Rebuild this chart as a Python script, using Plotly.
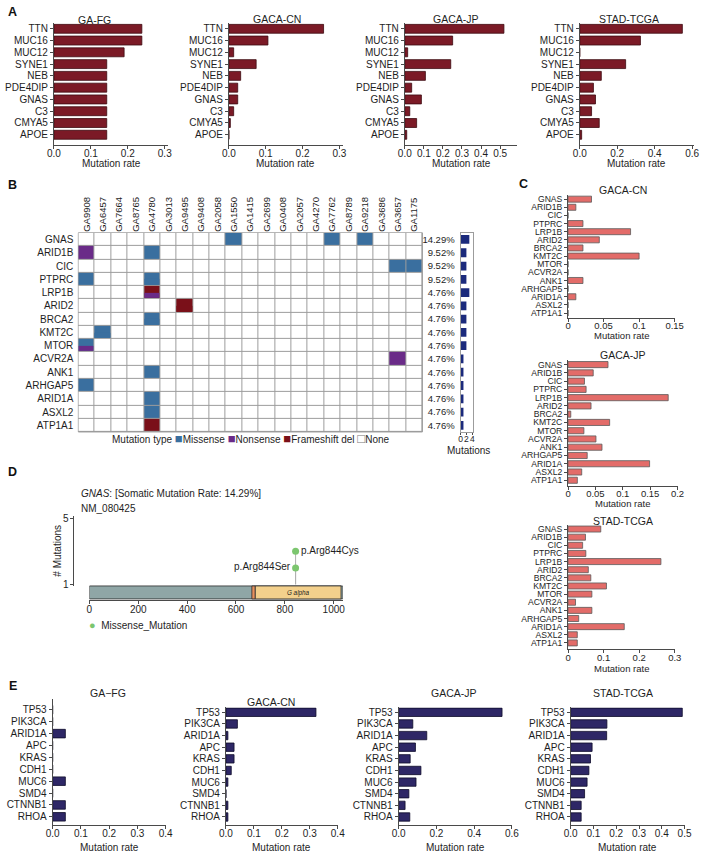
import plotly.graph_objects as go

W, H = 709, 855
FONT = "Liberation Sans, Arial, sans-serif"
TXT = "#1e1e1e"
AXC = "#4a4a4a"

# ---------------- Data ----------------
A_genes = ["TTN", "MUC16", "MUC12", "SYNE1", "NEB", "PDE4DIP", "GNAS", "C3", "CMYA5", "APOE"]
A_ga_fg = [0.238, 0.238, 0.190, 0.143, 0.143, 0.143, 0.143, 0.143, 0.143, 0.143]
A_gaca_cn = [0.257, 0.106, 0.013, 0.074, 0.032, 0.024, 0.024, 0.013, 0.004, 0.0]
A_gaca_jp = [0.520, 0.251, 0.015, 0.241, 0.108, 0.036, 0.087, 0.026, 0.062, 0.010]
A_stad = [0.548, 0.324, 0.0, 0.245, 0.115, 0.073, 0.084, 0.063, 0.104, 0.010]

B_genes = ["GNAS", "ARID1B", "CIC", "PTPRC", "LRP1B", "ARID2", "BRCA2", "KMT2C", "MTOR",
           "ACVR2A", "ANK1", "ARHGAP5", "ARID1A", "ASXL2", "ATP1A1"]
B_samples = ["GA9908", "GA6457", "GA7664", "GA8765", "GA4780", "GA3013", "GA9495", "GA9408",
             "GA2058", "GA1550", "GA1415", "GA2699", "GA0408", "GA2057", "GA4270", "GA7762",
             "GA8789", "GA9218", "GA3686", "GA3657", "GA1175"]
B_pct = ["14.29%", "9.52%", "9.52%", "9.52%", "4.76%", "4.76%", "4.76%", "4.76%", "4.76%",
         "4.76%", "4.76%", "4.76%", "4.76%", "4.76%", "4.76%"]
B_counts = [3, 2, 2, 2, 3, 2, 2, 2, 2, 1, 1, 1, 1, 1, 1]
B_types = ["None", "Missense", "Nonsense", "Frameshift del"]
B_type_colors = ["#FFFFFF", "#3A6F9F", "#6A2B88", "#7A1019"]
B_mutations = [
    ("GNAS", "GA1550", ["Missense"]), ("GNAS", "GA7762", ["Missense"]), ("GNAS", "GA9218", ["Missense"]),
    ("ARID1B", "GA9908", ["Nonsense"]), ("ARID1B", "GA4780", ["Missense"]),
    ("CIC", "GA3657", ["Missense"]), ("CIC", "GA1175", ["Missense"]),
    ("PTPRC", "GA9908", ["Missense"]), ("PTPRC", "GA4780", ["Missense", "Missense"]),
    ("LRP1B", "GA4780", ["Frameshift del", "Nonsense"]),
    ("ARID2", "GA9495", ["Frameshift del", "Frameshift del"]),
    ("BRCA2", "GA4780", ["Missense", "Missense"]),
    ("KMT2C", "GA6457", ["Missense", "Missense"]),
    ("MTOR", "GA9908", ["Missense", "Nonsense"]),
    ("ACVR2A", "GA3657", ["Nonsense"]),
    ("ANK1", "GA4780", ["Missense"]),
    ("ARHGAP5", "GA9908", ["Missense"]),
    ("ARID1A", "GA4780", ["Missense"]),
    ("ASXL2", "GA4780", ["Missense"]),
    ("ATP1A1", "GA4780", ["Frameshift del"]),
]

C_genes = B_genes
C_gaca_cn = [0.033, 0.011, 0.0, 0.021, 0.088, 0.044, 0.021, 0.100, 0.0, 0.0, 0.021, 0.0, 0.011, 0.0, 0.0]
C_gaca_jp = [0.073, 0.046, 0.030, 0.033, 0.183, 0.042, 0.005, 0.076, 0.029, 0.051, 0.062, 0.035, 0.149, 0.025, 0.017]
C_stad = [0.092, 0.049, 0.041, 0.050, 0.261, 0.057, 0.064, 0.108, 0.067, 0.021, 0.067, 0.030, 0.158, 0.026, 0.026]

D_gene = "GNAS"
D_rate = "14.29%"
D_transcript = "NM_080425"
D_length = 1037
D_dom_names = ["", "G alpha"]
D_dom_start = [665, 679]
D_dom_end = [679, 1030]
D_dom_colors = ["#E8905E", "#F3D08C"]
D_mut_pos = [844, 844]
D_mut_count = [2, 3]
D_mut_label = ["p.Arg844Ser", "p.Arg844Cys"]
D_mut_side = ["middle left", "middle right"]

E_genes = ["TP53", "PIK3CA", "ARID1A", "APC", "KRAS", "CDH1", "MUC6", "SMD4", "CTNNB1", "RHOA"]
E_ga_fg = [0.0, 0.0, 0.045, 0.0, 0.0, 0.0, 0.045, 0.0, 0.045, 0.045]
E_gaca_cn = [0.322, 0.041, 0.007, 0.029, 0.029, 0.019, 0.007, 0.0, 0.007, 0.007]
E_gaca_jp = [0.548, 0.075, 0.149, 0.089, 0.061, 0.118, 0.092, 0.054, 0.034, 0.059]
E_stad = [0.490, 0.159, 0.158, 0.094, 0.087, 0.080, 0.072, 0.061, 0.046, 0.046]

# ---------------- Helpers ----------------
fig = go.Figure()
layout = {}
annotations = []
shapes = []


def px_x(a, b):
    return [a / W, b / W]


def px_y(top, bottom):
    return [1 - bottom / H, 1 - top / H]


def ann(text, x, y, size=10, xanchor="center", yanchor="middle", angle=0, bold=False, color=TXT):
    annotations.append(dict(text=f"<b>{text}</b>" if bold else text, x=x / W, y=1 - y / H,
                            xref="paper", yref="paper", showarrow=False, xanchor=xanchor,
                            yanchor=yanchor, textangle=angle,
                            font=dict(family=FONT, size=size, color=color)))


def ax_style(fs=10, **kw):
    d = dict(showline=True, linecolor=AXC, linewidth=1, ticks="outside", ticklen=3, tickwidth=1,
             tickcolor=AXC, showgrid=False, zeroline=False, fixedrange=True,
             tickfont=dict(family=FONT, size=fs, color=TXT))
    d.update(kw)
    return d


counter = [0]


def new_axes():
    counter[0] += 1
    k = counter[0]
    s = "" if k == 1 else str(k)
    return f"x{s}", f"y{s}", f"xaxis{s}", f"yaxis{s}"


def hbar_panel(cats, vals, color, edge, x0, unit, xmax, y_first, step, pad_top, pad_bot,
               xticks, xtext, title, title_xy, tick_fs=10, ycat_fs=10, bw=0.74, xlab_y=None,
               xlab_fs=10, xstand=-4):
    xn, yn, xk, yk = new_axes()
    n = len(cats)
    idx = list(range(n))
    fig.add_trace(go.Bar(x=vals, y=idx, orientation="h", width=bw,
                         marker=dict(color=color, line=dict(color=edge, width=0.8)),
                         xaxis=xn, yaxis=yn, showlegend=False, hoverinfo="skip"))
    x1 = x0 + xmax * unit
    top = y_first - pad_top * step
    bot = y_first + (n - 1 + pad_bot) * step
    layout[xk] = ax_style(fs=tick_fs, domain=px_x(x0, x1), range=[0, xmax], tickvals=xticks,
                          ticktext=xtext, anchor=yn, ticklabelstandoff=xstand, tickangle=0)
    layout[yk] = ax_style(fs=ycat_fs, domain=px_y(top, bot), range=[n - 1 + pad_bot, -pad_top],
                          tickvals=idx, ticktext=cats, anchor=xn)
    ann(title, title_xy[0], title_xy[1], size=10.5)
    if xlab_y is not None:
        ann("Mutation rate", (x0 + x1) / 2, xlab_y, size=xlab_fs)


# ---------------- Panel A ----------------
A_RED, A_EDGE = "#7B1A26", "#3C0A10"
A_step = 11.89
for vals, x0, unit, xmax, ticks, title, txy in [
    (A_ga_fg, 48, 378, 0.31, [0, 0.1, 0.2, 0.3], "GA-FG", (90, 16)),
    (A_gaca_cn, 227, 377, 0.31, [0, 0.1, 0.2, 0.3], "GACA-CN", (276, 15)),
    (A_gaca_jp, 407, 195, 0.59, [0, 0.1, 0.2, 0.3, 0.4, 0.5], "GACA-JP", (459, 15)),
    (A_stad, 586, 191.5, 0.61, [0, 0.2, 0.4, 0.6], "STAD-TCGA", (636, 15)),
]:
    hbar_panel(A_genes, vals, A_RED, A_EDGE, x0, unit, xmax, 25, A_step, 0.45, 0.84,
               ticks, [f"{t:.1f}" for t in ticks], title, txy, bw=0.76, xlab_y=161, xstand=-4)

# ---------------- Panel B ----------------
nG, nS = len(B_genes), len(B_samples)
code = {t: i for i, t in enumerate(B_types)}
z_base = [[0] * nS for _ in range(nG)]
z_half = [[None] * nS for _ in range(2 * nG)]
for gene, sample, types in B_mutations:
    gi, si = B_genes.index(gene), B_samples.index(sample)
    z_base[gi][si] = code[types[0]]
    if len(types) > 1:
        z_half[2 * gi + 1][si] = code[types[1]]
cscale = []
for i, c in enumerate(B_type_colors):
    cscale += [[i / len(B_type_colors), c], [(i + 1) / len(B_type_colors), c]]

xn, yn, xk, yk = new_axes()
fig.add_trace(go.Heatmap(z=z_base, x=list(range(nS)), y=list(range(nG)), colorscale=cscale,
                         zmin=-0.5, zmax=3.5, showscale=False, xgap=1, ygap=1,
                         xaxis=xn, yaxis=yn, hoverinfo="skip"))
fig.add_trace(go.Heatmap(z=z_half, x=list(range(nS)), y=[i * 0.5 - 0.25 for i in range(2 * nG)],
                         colorscale=cscale, zmin=-0.5, zmax=3.5, showscale=False, xgap=1, ygap=1,
                         xaxis=xn, yaxis=yn, hoverinfo="skip"))
layout[xk] = dict(domain=px_x(73, 425), range=[-0.5, nS - 0.5], side="top", tickvals=list(range(nS)),
                  ticktext=B_samples, tickangle=-90, ticks="", showline=False, showgrid=False,
                  zeroline=False, anchor=yn, ticklabelstandoff=0, fixedrange=True,
                  tickfont=dict(family=FONT, size=9.5, color=TXT))
layout[yk] = dict(domain=px_y(231, 432), range=[nG - 0.5, -0.5], tickvals=list(range(nG)),
                  ticktext=B_genes, ticks="", showline=False, showgrid=False, zeroline=False,
                  anchor=xn, ticklabelstandoff=4, fixedrange=True,
                  tickfont=dict(family=FONT, size=10, color=TXT))
shapes.append(dict(type="rect", xref=f"{xn} domain", yref=f"{yn} domain", x0=0, x1=1, y0=0, y1=1,
                   fillcolor="#9c9c9c", line=dict(color="#9c9c9c", width=1), layer="below"))

# mutation count bars with percentage labels
xn, yn, xk, yk = new_axes()
fig.add_trace(go.Bar(x=B_counts, y=list(range(nG)), orientation="h", width=0.66,
                     marker=dict(color="#1B2A7C", line=dict(width=0)), xaxis=xn, yaxis=yn,
                     showlegend=False, hoverinfo="skip"))
layout[xk] = ax_style(fs=8.5, domain=px_x(464, 477), range=[0, 4.33], tickvals=[0, 2, 4],
                      ticktext=["0", "2", "4"], anchor=yn, mirror=True, linecolor="#9c9c9c",
                      ticklen=2, ticklabelstandoff=-3, tickangle=0)
layout[yk] = ax_style(fs=9.5, domain=px_y(231, 432), range=[nG - 0.5, -0.5],
                      tickvals=list(range(nG)), ticktext=B_pct, anchor=xn, mirror=True,
                      linecolor="#9c9c9c", ticks="", ticklabelstandoff=3)
ann("Mutations", 472, 450.5, size=10)

# legend of mutation types (text keys)
leg = "Mutation type "
for t, c in zip(B_types[1:] + B_types[:1], B_type_colors[1:] + B_type_colors[:1]):
    if t == "None":
        key = '<span style="color:#777777;font-size:13px">□</span>'
    else:
        key = f'<span style="color:{c};font-size:13px">■</span>'
    leg += f"{key}{t} "
ann(leg.strip(), 250, 438.5, size=10)

# ---------------- Panel C ----------------
C_RED, C_EDGE = "#E36C69", "#5a5a5a"
for vals, unit, xmax, ticks, ttext, title, y_first, step, pad_bot, ty, ly in [
    (C_gaca_cn, 727, 0.15, [0, 0.05, 0.1, 0.15], ["0", "0.05", "0.1", "0.15"], "GACA-CN", 197, 8.21, 0.62, 188, 335),
    (C_gaca_jp, 560, 0.2, [0, 0.05, 0.1, 0.15, 0.2], ["0", "0.05", "0.1", "0.15", "0.2"], "GACA-JP", 364, 8.34, 0.64, 354, 504),
    (C_stad, 364, 0.3, [0, 0.1, 0.2, 0.3], ["0", "0.1", "0.2", "0.3"], "STAD-TCGA", 530, 8.21, 0.8, 521.5, 671),
]:
    hbar_panel(C_genes, vals, C_RED, C_EDGE, 574, unit, xmax, y_first, step, 0.5, pad_bot,
               ticks, ttext, title, (630, ty), tick_fs=9.5, ycat_fs=8.6, bw=0.74, xlab_y=ly,
               xlab_fs=9.5, xstand=-4)

# ---------------- Panel D ----------------
px_per_aa = (343.5 - 84.3) / D_length
one_px, unit_px = 586.0, 16.75
y_lo = 1 - (588 - one_px) / unit_px
y_hi = 1 + (one_px - 517) / unit_px
x_lo = -(84.3 - 69) / px_per_aa

xn, yn, xk, yk = new_axes()
sx, sy = [], []
for p, c in zip(D_mut_pos, D_mut_count):
    sx += [p, p, None]
    sy += [y_lo, c, None]
fig.add_trace(go.Scatter(x=sx, y=sy, mode="lines", line=dict(color="#b0b0b0", width=1),
                         xaxis=xn, yaxis=yn, showlegend=False, hoverinfo="skip", cliponaxis=False))
fig.add_trace(go.Scatter(x=D_mut_pos, y=D_mut_count, mode="markers+text", text=D_mut_label,
                         textposition=D_mut_side, marker=dict(color="#7CC66F", size=7),
                         textfont=dict(family=FONT, size=10, color=TXT), xaxis=xn, yaxis=yn,
                         showlegend=False, hoverinfo="skip", cliponaxis=False))
layout[xk] = dict(domain=px_x(69, 343.5), range=[x_lo, D_length], visible=False, anchor=yn,
                  fixedrange=True)
layout[yk] = ax_style(fs=10, domain=px_y(517, 588), range=[y_lo, y_hi], tickvals=[1, 5],
                      ticktext=["1", "5"], anchor=xn)
ann("# Mutations", 52, 552, size=10, angle=-90)
ann(f"<i>{D_gene}</i>: [Somatic Mutation Rate: {D_rate}]", 74, 494, size=10, xanchor="left")
ann(D_transcript, 74, 509.5, size=10, xanchor="left")

xn, yn, xk, yk = new_axes()
fig.add_trace(go.Bar(x=[D_length], y=[0], base=[0], orientation="h", width=0.82,
                     marker=dict(color="#8FA6A6", line=dict(color="#2a2a2a", width=0.8)),
                     xaxis=xn, yaxis=yn, showlegend=False, hoverinfo="skip"))
fig.add_trace(go.Bar(x=[e - s for s, e in zip(D_dom_start, D_dom_end)], y=[0] * len(D_dom_start),
                     base=D_dom_start, orientation="h", width=0.82, text=D_dom_names,
                     textposition="inside", insidetextanchor="middle",
                     textfont=dict(family=FONT, size=10, color=TXT, style="italic"),
                     marker=dict(color=D_dom_colors, line=dict(color="#2a2a2a", width=0.8)),
                     xaxis=xn, yaxis=yn, showlegend=False, hoverinfo="skip"))
layout[xk] = ax_style(fs=10, domain=px_x(84.3, 343.5), range=[0, D_length],
                      tickvals=[0, 200, 400, 600, 800, 1000], anchor=yn, ticklabelstandoff=-3,
                      tickangle=0)
layout[yk] = dict(domain=px_y(586, 602), range=[-0.5, 0.5], visible=False, anchor=xn,
                  fixedrange=True)
ann('<span style="color:#7CC66F;font-size:11px">●</span>  Missense_Mutation', 82, 627, size=10,
    xanchor="left")

# ---------------- Panel E ----------------
E_COL, E_EDGE = "#2E2766", "#0e0b2a"
for vals, x0, unit, xmax, ticks, title, txy, y_first, step, pad_top, pad_bot in [
    (E_ga_fg, 46.7, 289, 0.4, [0, 0.1, 0.2, 0.3, 0.4], "GA−FG", (103, 696), 712.5, 12.0, 0.875, 0.71),
    (E_gaca_cn, 224, 286, 0.4, [0, 0.1, 0.2, 0.3, 0.4], "GACA-CN", (270, 705), 715, 11.74, 0.43, 0.71),
    (E_gaca_jp, 400.7, 193, 0.6, [0, 0.2, 0.4, 0.6], "GACA-JP", (457, 696), 715, 11.74, 0.43, 0.71),
    (E_stad, 576.7, 233, 0.5, [0, 0.1, 0.2, 0.3, 0.4, 0.5], "STAD-TCGA", (630, 696), 715, 11.74, 0.43, 0.71),
]:
    hbar_panel(E_genes, vals, E_COL, E_EDGE, x0, unit, xmax, y_first, step, pad_top, pad_bot,
               ticks, [f"{t:.1f}" for t in ticks], title, txy, bw=0.72, xlab_y=851, xstand=-4)

# ---------------- Panel letters ----------------
for letter, x, y in [("A", 6, 8), ("B", 6, 183), ("C", 528, 182), ("D", 6, 472), ("E", 6, 688)]:
    ann(letter, x, y, size=12.5, bold=True, color="#111111")

layout.update(dict(width=W, height=H, margin=dict(l=0, r=0, t=0, b=0), paper_bgcolor="white",
                   plot_bgcolor="white", showlegend=False, barmode="overlay",
                   font=dict(family=FONT, size=10, color=TXT),
                   annotations=annotations, shapes=shapes))
fig.update_layout(**layout)
fig.write_html("out.html")
